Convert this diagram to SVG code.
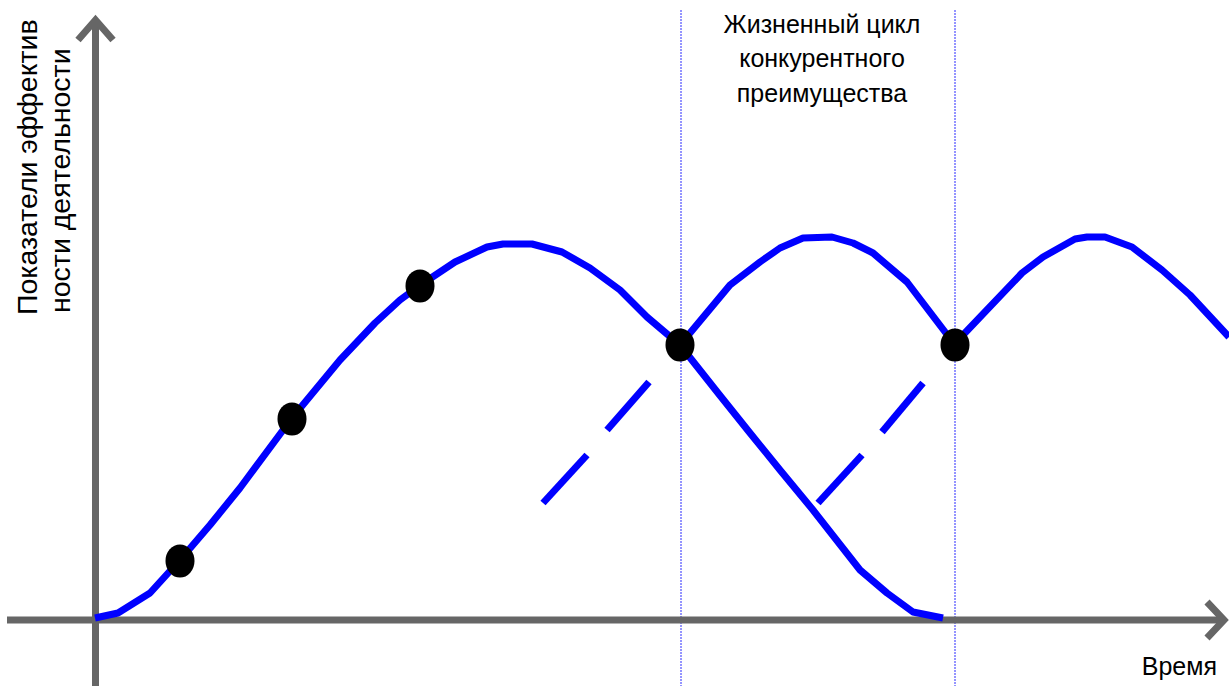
<svg xmlns="http://www.w3.org/2000/svg" width="1229" height="686" viewBox="0 0 1229 686">
<style>
.axis{stroke:#666666;stroke-width:7;fill:none;stroke-linecap:butt;stroke-linejoin:miter}
.curve{stroke:#0000ff;stroke-width:7;fill:none;stroke-linejoin:round}
.dash{stroke:#0000ff;stroke-width:7;fill:none}
.guide{stroke:#2a2aff;stroke-width:1;stroke-dasharray:2,1;fill:none}
.dot{fill:#000000}
text{font-family:"Liberation Sans",Arial,sans-serif;font-size:25px;fill:#000000}
.yl{font-size:28.5px}
</style>
<rect width="1229" height="686" fill="#ffffff"/>
<g id="guides">
<line class="guide" x1="681" y1="10" x2="681" y2="686"/>
<line class="guide" x1="955" y1="10" x2="955" y2="686"/>
</g>
<g id="axes">
<line class="axis" x1="95.5" y1="686" x2="95.5" y2="20"/>
<polyline class="axis" points="78,40 95.5,20 113,40"/>
<line class="axis" x1="7" y1="620" x2="1223" y2="620"/>
<polyline class="axis" points="1207,602 1224,620 1207,638"/>
</g>
<g id="connectors">
<polyline class="curve" points="95,618 118,613 150,593 180,560 210,525 240,488 292,418 340,360 375,323 400,300 419,286 455,262 487,247 503,244 532,244 562,252 590,268 620,290 647,317 680,345 718,393 750,433 780,470 813,510 860,570 887,593 913,612 943,618"/>
<polyline class="curve" points="680,345 690,333 730,285 760,262 780,248 803,238 832,237 853,243 873,253 907,282 955,345"/>
<polyline class="curve" points="955,345 963,335 1022,273 1043,257 1075,239 1087,237 1105,237 1132,247 1162,270 1190,295 1229,337"/>
<line class="dash" x1="543" y1="503" x2="587" y2="455"/>
<line class="dash" x1="607" y1="430" x2="649" y2="382"/>
<line class="dash" x1="818" y1="503" x2="862" y2="455"/>
<line class="dash" x1="882" y1="432" x2="923" y2="383"/>
</g>
<g id="dot1"><ellipse class="dot" cx="180" cy="561" rx="14.5" ry="16.5"/></g>
<g id="dot2"><ellipse class="dot" cx="292" cy="419" rx="14.5" ry="16.5"/></g>
<g id="dot3"><ellipse class="dot" cx="420" cy="286" rx="14.5" ry="16.5"/></g>
<g id="dot4"><ellipse class="dot" cx="680" cy="345" rx="14.5" ry="16.5"/></g>
<g id="dot5"><ellipse class="dot" cx="955" cy="345" rx="14.5" ry="16.5"/></g>
<g id="title">
<text x="822" y="33" text-anchor="middle">Жизненный цикл</text>
<text x="822" y="67" text-anchor="middle">конкурентного</text>
<text x="822" y="102" text-anchor="middle">преимущества</text>
</g>
<g id="ylabel">
<text class="yl" transform="translate(37,315) rotate(-90)">Показатели эффектив</text>
<text class="yl" transform="translate(70,313) rotate(-90)">ности деятельности</text>
</g>
<g id="xlabel">
<text x="1217" y="675" text-anchor="end">Время</text>
</g>
</svg>
